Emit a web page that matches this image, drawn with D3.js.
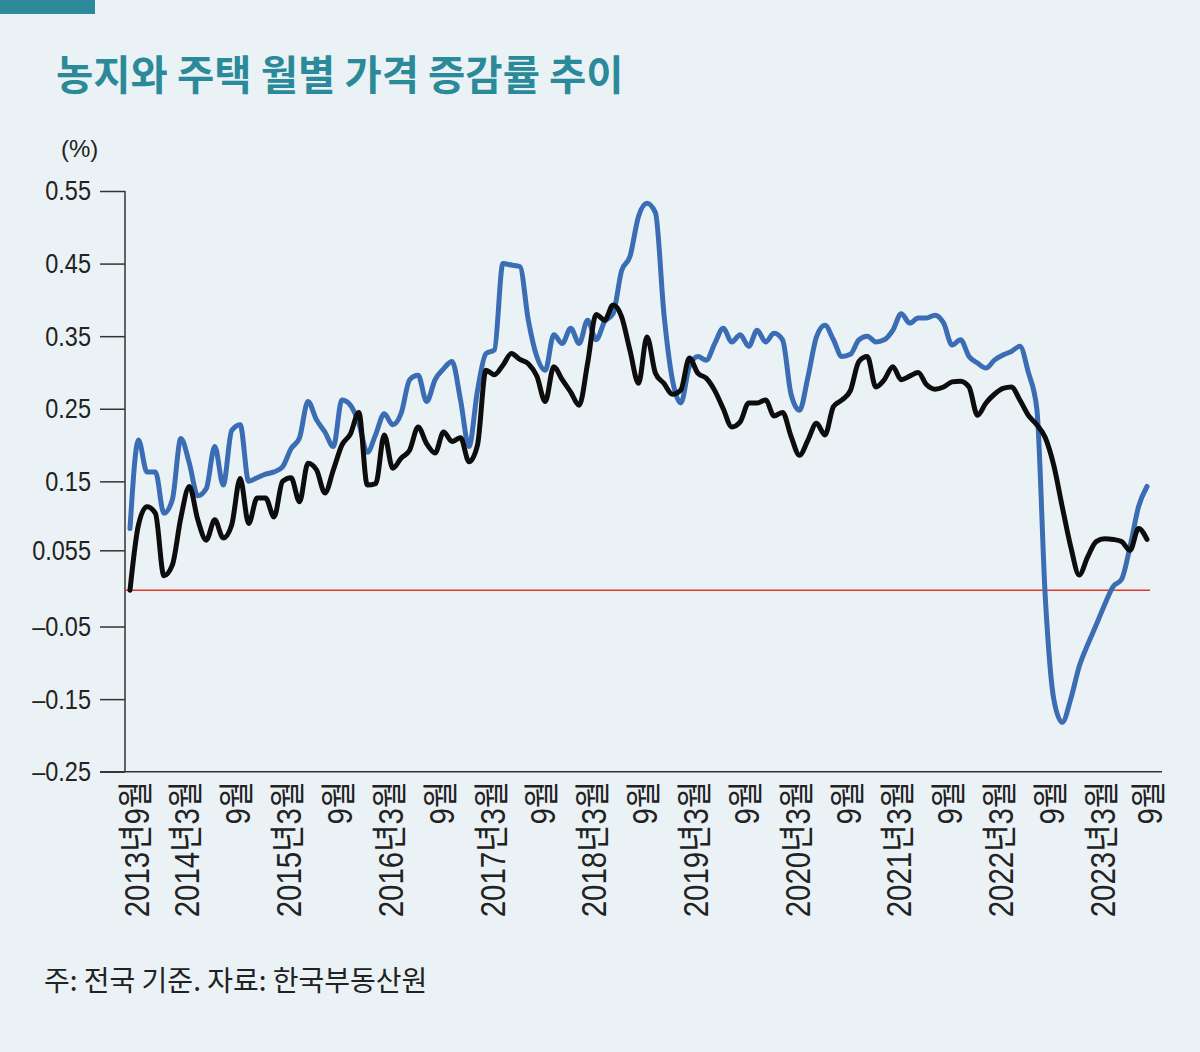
<!DOCTYPE html>
<html><head><meta charset="utf-8">
<script src="https://cdn.jsdelivr.net/npm/d3@7"></script>
<style>
html,body{margin:0;padding:0;background:#ebf2f5;}
svg{display:block;}
</style></head>
<body>
<svg id="chart" width="1200" height="1052"></svg>
<script>
// ---- data ----
const startMonth = "2013-09";
// 주택 (housing) monthly price change, %  (blue)
const housing = [0.085,0.207,0.163,0.163,0.106,0.125,0.209,0.175,0.13,0.14,
0.198,0.145,0.22,0.228,0.15,0.155,0.16,0.163,0.17,0.195,
0.21,0.26,0.235,0.218,0.198,0.262,0.255,0.23,0.19,0.215,
0.243,0.228,0.244,0.29,0.296,0.26,0.29,0.305,0.315,0.262,
0.198,0.275,0.326,0.331,0.45,0.448,0.446,0.372,0.322,0.303,
0.352,0.34,0.361,0.34,0.372,0.345,0.37,0.381,0.44,0.46,
0.515,0.533,0.52,0.381,0.29,0.258,0.308,0.322,0.317,0.34,
0.361,0.342,0.352,0.336,0.358,0.342,0.354,0.345,0.27,0.248,
0.294,0.349,0.365,0.345,0.322,0.325,0.345,0.35,0.342,0.345,
0.358,0.381,0.368,0.375,0.375,0.379,0.368,0.338,0.345,0.322,
0.313,0.306,0.317,0.324,0.329,0.336,0.3,0.25,-0.01,-0.15,
-0.182,-0.15,-0.105,-0.075,-0.048,-0.02,0.005,0.015,0.06,0.115,
0.143];
// 농지 (farmland) monthly price change, %  (black)
const farmland = [0.0,0.09,0.115,0.106,0.02,0.035,0.1,0.143,0.097,0.069,
0.097,0.072,0.09,0.154,0.092,0.127,0.127,0.101,0.15,0.155,
0.122,0.175,0.166,0.134,0.166,0.2,0.215,0.245,0.145,0.147,
0.214,0.168,0.182,0.193,0.225,0.202,0.189,0.218,0.205,0.21,
0.177,0.2,0.303,0.297,0.31,0.326,0.318,0.312,0.295,0.26,
0.308,0.29,0.273,0.255,0.313,0.38,0.372,0.393,0.377,0.33,
0.285,0.349,0.299,0.285,0.27,0.276,0.32,0.299,0.292,0.275,
0.25,0.225,0.232,0.258,0.258,0.262,0.24,0.245,0.212,0.186,
0.207,0.23,0.214,0.253,0.262,0.275,0.315,0.322,0.28,0.29,
0.308,0.29,0.295,0.3,0.283,0.277,0.28,0.287,0.288,0.28,
0.241,0.258,0.27,0.278,0.28,0.262,0.241,0.228,0.21,0.172,
0.115,0.06,0.021,0.046,0.067,0.071,0.07,0.067,0.055,0.085,
0.07];
const yTicks = [0.55,0.45,0.35,0.25,0.15,0.055,-0.05,-0.15,-0.25];
const xTickMonths = [0,6,12,18,24,30,36,42,48,54,60,66,72,78,84,90,96,102,108,114,120];
const xTickLabels = ["2013년9월","2014년3월","9월","2015년3월","9월","2016년3월","9월","2017년3월","9월",
"2018년3월","9월","2019년3월","9월","2020년3월","9월","2021년3월","9월","2022년3월","9월","2023년3월","9월"];
const title = "농지와 주택 월별 가격 증감률 추이";
const unit = "(%)";
const note = "주: 전국 기준. 자료: 한국부동산원";

// ---- drawing ----
const svg = d3.select("#chart");
svg.append("rect").attr("width",1200).attr("height",1052).attr("fill","#ebf2f5");
svg.append("rect").attr("x",0).attr("y",0).attr("width",95).attr("height",14).attr("fill","#2d8a9a");
svg.append("text").attr("x",56).attr("y",90).text(title)
  .attr("font-family","'Noto Sans CJK KR',sans-serif").attr("font-weight",700)
  .attr("font-size",40.5).attr("fill","#2b8a99");
svg.append("text").attr("x",61).attr("y",157).text(unit)
  .attr("font-family","'Liberation Sans',Arial,sans-serif").attr("font-size",24).attr("fill","#222");

const x = d3.scaleLinear().domain([0,120]).range([130,1147]);
const y = d3.scaleLinear().domain([-0.25,0.55]).range([771.7,191]);

// y axis
const yAxis = d3.axisLeft(y).tickValues(yTicks).tickSize(25).tickPadding(9)
  .tickFormat(d => d < 0 ? "\u2013" + Math.abs(d) : String(d));
const ga = svg.append("g").attr("transform","translate(125,0)").call(yAxis);
ga.select(".domain").remove();
ga.selectAll(".tick line").attr("stroke","#333").attr("stroke-width",1.5);
ga.selectAll(".tick text").attr("font-family","'Liberation Sans',Arial,sans-serif")
  .attr("font-size",28).attr("fill","#222")
  .attr("x",0).attr("transform","translate(-34,0) scale(0.84,1)");
svg.append("line").attr("x1",125).attr("x2",125).attr("y1",y(0.55)).attr("y2",y(-0.25))
  .attr("stroke","#333").attr("stroke-width",1.5);
svg.append("line").attr("x1",100).attr("x2",1162).attr("y1",y(-0.25)).attr("y2",y(-0.25))
  .attr("stroke","#333").attr("stroke-width",1.5);

// x labels
const xl = svg.append("g");
xTickMonths.forEach((m,i) => {
  const px = Math.min(x(m)+6, 1149);
  xl.append("text").attr("transform",`translate(${px},781) rotate(-90) scale(0.82,1)`)
    .attr("text-anchor","end").attr("dy","0.35em")
    .attr("font-family","'Liberation Sans',Arial,'Noto Sans CJK KR',sans-serif")
    .attr("font-size",36).attr("fill","#222").text(xTickLabels[i]);
});

// zero line
svg.append("line").attr("x1",125).attr("x2",1150).attr("y1",y(0)).attr("y2",y(0))
  .attr("stroke","#e03a2e").attr("stroke-width",1.5);

const line = d3.line().x((d,i)=>x(i)).y(d=>y(d)).curve(d3.curveMonotoneX);
svg.append("path").datum(housing).attr("d",line).attr("fill","none")
  .attr("stroke","#3a6db3").attr("stroke-width",5).attr("stroke-linejoin","round").attr("stroke-linecap","round");
svg.append("path").datum(farmland).attr("d",line).attr("fill","none")
  .attr("stroke","#0d0d0d").attr("stroke-width",5).attr("stroke-linejoin","round").attr("stroke-linecap","round");

svg.append("text").attr("x",44).attr("y",991).text(note)
  .attr("font-family","'Noto Sans CJK KR',sans-serif").attr("font-size",28).attr("fill","#222");
</script>
</body></html>
